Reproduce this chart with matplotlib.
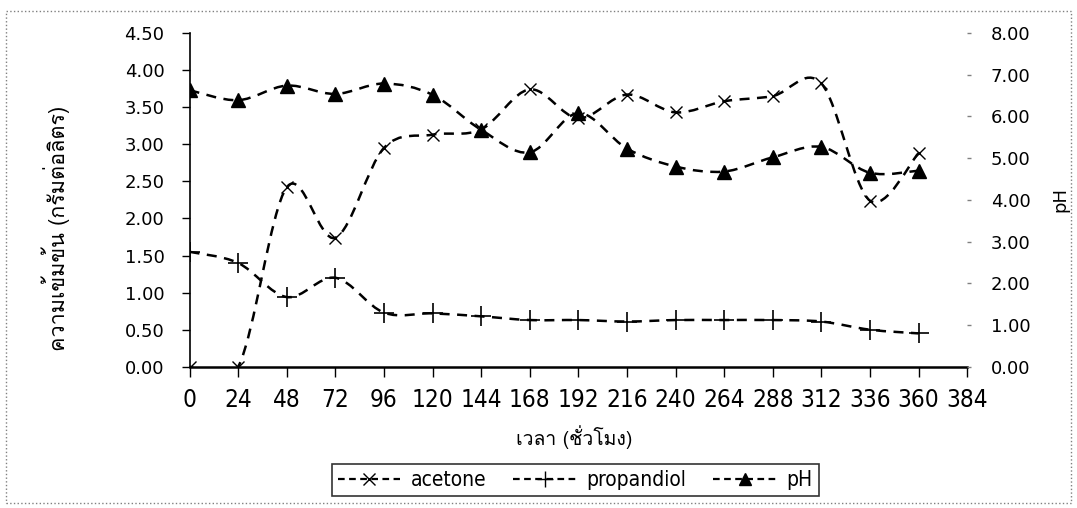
import matplotlib
matplotlib.use('Agg')
import matplotlib.pyplot as plt
from matplotlib import font_manager
from matplotlib.ft2font import FT2Font
from matplotlib.path import Path
from matplotlib.patches import PathPatch, Rectangle
from matplotlib.lines import Line2D
import numpy as np


hours = [0, 24, 48, 72, 96, 120, 144, 168, 192, 216, 240, 264, 288, 312, 336, 360]
acetone = [0.00, 0.00, 2.42, 1.74, 2.95, 3.13, 3.20, 3.74, 3.35, 3.67, 3.43, 3.58, 3.65, 3.82, 2.24, 2.88]
propandiol = [1.55, 1.40, 0.94, 1.20, 0.73, 0.72, 0.68, 0.63, 0.63, 0.61, 0.63, 0.63, 0.63, 0.61, 0.50, 0.45]
ph = [6.63, 6.39, 6.74, 6.54, 6.79, 6.52, 5.68, 5.14, 6.08, 5.23, 4.80, 4.68, 5.02, 5.27, 4.65, 4.70]

x_ticks = list(range(0, 385, 24))
left_ticks = [0, 0.5, 1.0, 1.5, 2.0, 2.5, 3.0, 3.5, 4.0, 4.5]
right_ticks = [0, 1, 2, 3, 4, 5, 6, 7, 8]

y_title = 'ความเข้มข้น (กรัมต่อลิตร)'
x_title = 'เวลา (ชั่วโมง)'


def find_font(ch, prefer=()):
    names = {}
    for f in font_manager.fontManager.ttflist:
        try:
            if FT2Font(f.fname).get_char_index(ord(ch)):
                names[f.name] = 1
        except Exception:
            pass
    for p in prefer:
        if p in names:
            return p
    return sorted(names)[0] if names else 'DejaVu Sans'


thai_font = find_font('ก', prefer=('Loma', 'Garuda', 'Tlwg Typo', 'Noto Sans Thai', 'Noto Sans Thai UI', 'Norasi'))
has_condensed = any(f.name == 'DejaVu Sans' and f.stretch == 'condensed'
                    for f in font_manager.fontManager.ttflist)
xtick_size = 17.5 if has_condensed else 15
legend_size = 15 if has_condensed else 13


def smooth_path(xs, ys):
    # excel style smoothed line: bezier segments through every point
    p = np.column_stack([xs, ys]).astype(float)
    n = len(p)
    verts = [p[0]]
    codes = [Path.MOVETO]
    for i in range(n - 1):
        p0 = p[i - 1] if i > 0 else p[i]
        p3 = p[i + 2] if i + 2 < n else p[i + 1]
        c1 = p[i] + (p[i + 1] - p0) / 6.0
        c2 = p[i + 1] - (p3 - p[i]) / 6.0
        verts += [c1, c2, p[i + 1]]
        codes += [Path.CURVE4] * 3
    return Path(verts, codes)


dash = (0, (4, 3))

fig = plt.figure(figsize=(10.77, 5.08), dpi=100)
ax = fig.add_axes([0.176, 0.278, 0.722, 0.657])
ax2 = ax.twinx()

for xs, ys, axis in [(hours, acetone, ax), (hours, propandiol, ax), (hours, ph, ax2)]:
    axis.add_patch(PathPatch(smooth_path(xs, ys), fill=False, ec='black', lw=1.8, ls=dash, zorder=2))

ax.plot(hours, acetone, ls='none', marker='x', ms=9, mew=1.0, color='black', zorder=3)
ax.plot(hours, propandiol, ls='none', marker='+', ms=14, mew=1.2, color='black', zorder=3)
ax2.plot(hours, ph, ls='none', marker='^', ms=10, color='black', zorder=3)

ax.set_xlim(0, 384)
ax.set_ylim(0, 4.5)
ax2.set_ylim(0, 8)
ax.set_xticks(x_ticks)
ax.set_xticklabels([str(t) for t in x_ticks], fontsize=xtick_size, fontstretch='condensed')
ax.set_yticks(left_ticks)
ax.set_yticklabels(['%.2f' % t for t in left_ticks], fontsize=13)
ax2.set_yticks(right_ticks)
ax2.set_yticklabels(['%.2f' % t for t in right_ticks], fontsize=13)

for s in ['top', 'right']:
    ax.spines[s].set_visible(False)
for s in ['top', 'right', 'left', 'bottom']:
    ax2.spines[s].set_visible(False)
ax.spines['left'].set_linewidth(1.2)
ax.spines['bottom'].set_linewidth(1.8)

ax.tick_params(axis='y', direction='out', length=6, width=1, pad=12)
ax.tick_params(axis='x', direction='out', length=7, width=1, pad=8)
ax2.tick_params(axis='y', direction='out', length=3, width=1, color='gray', pad=14)

ax.set_xlabel(x_title, fontsize=14, family=[thai_font, 'DejaVu Sans'])
ax.xaxis.set_label_coords(0.495, -0.175)
ax.set_ylabel(y_title, fontsize=15.5, family=[thai_font, 'DejaVu Sans'])
ax.yaxis.set_label_coords(-0.154, 0.416)
ax2.set_ylabel('pH', fontsize=13, rotation=90)
ax2.yaxis.set_label_coords(1.108, 0.5)

handles = [
    Line2D([], [], color='black', ls=(0, (3, 2)), lw=1.6, marker='x', ms=8, label='acetone'),
    Line2D([], [], color='black', ls=(0, (3, 2)), lw=1.6, marker='+', ms=11, label='propandiol'),
    Line2D([], [], color='black', ls=(0, (3, 2)), lw=1.6, marker='^', ms=8, label='pH'),
]
leg = fig.legend(handles=handles, loc='center', bbox_to_anchor=(0.534, 0.055), ncol=3,
                 frameon=True, fancybox=False, edgecolor='black',
                 handlelength=3.0, handletextpad=0.5, columnspacing=1.3, borderpad=0.3,
                 prop={'size': legend_size, 'stretch': 'condensed'})
leg.get_frame().set_linewidth(1.2)

fig.patches.append(Rectangle((0.006, 0.01), 0.988, 0.968, transform=fig.transFigure,
                             fill=False, ec='gray', ls=':', lw=1))

fig.savefig('out.png', dpi=100)
